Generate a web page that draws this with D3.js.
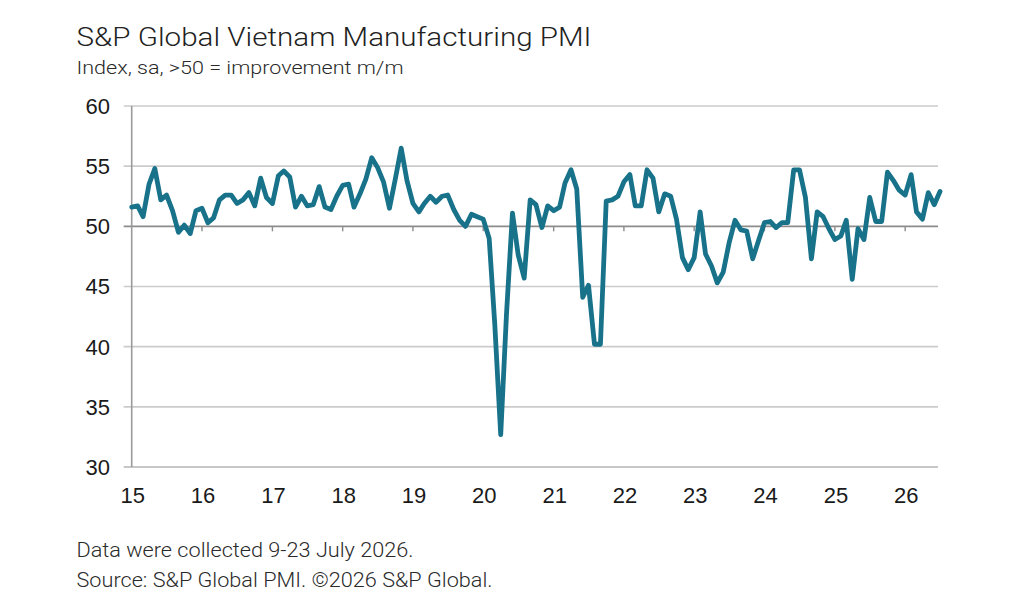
<!DOCTYPE html>
<html>
<head>
<meta charset="utf-8">
<script src="https://cdn.jsdelivr.net/npm/d3@7"></script>
<style>
  html, body { margin: 0; padding: 0; background: #fff; }
  svg { display: block; }
</style>
</head>
<body>
<svg id="chart" width="1024" height="614"></svg>
<script>
// ---- Data ----
const startMonth = "2015-01";   // first observation
const pmiValues = [
  // 2015
  51.6, 51.7, 50.8, 53.5, 54.8, 52.2, 52.6, 51.3, 49.5, 50.1, 49.4, 51.3,
  // 2016
  51.5, 50.3, 50.7, 52.2, 52.6, 52.6, 51.9, 52.2, 52.8, 51.7, 54.0, 52.4,
  // 2017
  51.9, 54.2, 54.6, 54.1, 51.6, 52.5, 51.7, 51.8, 53.3, 51.6, 51.4, 52.5,
  // 2018
  53.4, 53.5, 51.6, 52.7, 53.9, 55.7, 54.9, 53.7, 51.5, 53.9, 56.5, 53.8,
  // 2019
  51.9, 51.2, 51.9, 52.5, 52.0, 52.5, 52.6, 51.4, 50.5, 50.0, 51.0, 50.8,
  // 2020
  50.6, 49.0, 41.9, 32.7, 42.7, 51.1, 47.6, 45.7, 52.2, 51.8, 49.9, 51.7,
  // 2021
  51.3, 51.6, 53.6, 54.7, 53.1, 44.1, 45.1, 40.2, 40.2, 52.1, 52.2, 52.5,
  // 2022
  53.7, 54.3, 51.7, 51.7, 54.7, 54.0, 51.2, 52.7, 52.5, 50.6, 47.4, 46.4,
  // 2023
  47.4, 51.2, 47.7, 46.7, 45.3, 46.2, 48.6, 50.5, 49.7, 49.6, 47.3, 48.8,
  // 2024
  50.3, 50.4, 49.9, 50.3, 50.3, 54.7, 54.7, 52.4, 47.3, 51.2, 50.8, 49.8,
  // 2025
  48.9, 49.2, 50.5, 45.6, 49.8, 48.9, 52.4, 50.4, 50.4, 54.5, 53.8, 53.0,
  // 2026
  52.6, 54.3, 51.2, 50.6, 52.8, 51.8, 52.9
];
const yTicks = [30, 35, 40, 45, 50, 55, 60];
const xTickYears = [2015, 2016, 2017, 2018, 2019, 2020, 2021, 2022, 2023, 2024, 2025, 2026];
const titleText = "S&P Global Vietnam Manufacturing PMI";
const subtitleText = "Index, sa, >50 = improvement m/m";
const footerLines = ["Data were collected 9-23 July 2026.", "Source: S&P Global PMI. ©2026 S&P Global."];

(function () {
// ---- Build ----
const parseMonth = d3.timeParse("%Y-%m");
const t0 = parseMonth(startMonth);
const data = pmiValues.map((v, i) => ({ date: d3.timeMonth.offset(t0, i), value: v }));

const svg = d3.select("#chart");
const pLeft = 131.7, pRight = 940, pTop = 106, pBottom = 467;

const x = d3.scaleTime()
  .domain([data[0].date, data[data.length - 1].date])
  .range([pLeft, pRight]);
const y = d3.scaleLinear().domain([30, 60]).range([pBottom, pTop]);

const gridRight = 938;

// gridlines
svg.append("g").selectAll("line")
  .data(yTicks.filter(d => d !== 50))
  .join("line")
  .attr("x1", pLeft - 8).attr("x2", gridRight)
  .attr("y1", d => y(d)).attr("y2", d => y(d))
  .attr("stroke", d => d === 30 ? "#b4b4b4" : "#cbcbcb")
  .attr("stroke-width", 1.6);

// 50 line (darker)
svg.append("line")
  .attr("x1", pLeft - 8).attr("x2", gridRight)
  .attr("y1", y(50)).attr("y2", y(50))
  .attr("stroke", "#8c8c8c").attr("stroke-width", 1.6);

// year ticks on the 50 line
svg.append("g").selectAll("line")
  .data(xTickYears.slice(1))
  .join("line")
  .attr("x1", d => x(new Date(d, 0, 1))).attr("x2", d => x(new Date(d, 0, 1)))
  .attr("y1", y(50)).attr("y2", y(50) + 5)
  .attr("stroke", "#8c8c8c").attr("stroke-width", 1.4);

// y axis line
svg.append("line")
  .attr("x1", pLeft).attr("x2", pLeft)
  .attr("y1", pTop).attr("y2", pBottom)
  .attr("stroke", "#9a9a9a").attr("stroke-width", 1.6);

// y tick labels
svg.append("g").selectAll("text")
  .data(yTicks)
  .join("text")
  .attr("x", 110).attr("y", d => y(d))
  .attr("dy", "0.36em")
  .attr("text-anchor", "end")
  .attr("font-family", "'Liberation Sans', Arial, sans-serif")
  .attr("font-size", 22)
  .attr("fill", "#1a1a1a")
  .text(d => d);

// x tick labels
svg.append("g").selectAll("text")
  .data(xTickYears)
  .join("text")
  .attr("x", d => x(new Date(d, 0, 1)) + 1)
  .attr("y", 503)
  .attr("text-anchor", "middle")
  .attr("font-family", "'Liberation Sans', Arial, sans-serif")
  .attr("font-size", 22)
  .attr("fill", "#1a1a1a")
  .text(d => String(d).slice(2));

// line
const line = d3.line().x(d => x(d.date)).y(d => y(d.value));
svg.append("path")
  .datum(data)
  .attr("d", line)
  .attr("fill", "none")
  .attr("stroke", "#17728a")
  .attr("stroke-width", 4.8)
  .attr("stroke-linejoin", "round")
  .attr("stroke-linecap", "round");

// titles
svg.append("text")
  .attr("x", 76.5).attr("y", 46)
  .attr("font-family", "Roboto, 'Open Sans', sans-serif")
  .attr("font-weight", 300)
  .attr("font-size", 26)
  .attr("fill", "#222")
  .attr("textLength", 515).attr("lengthAdjust", "spacingAndGlyphs")
  .text(titleText);

svg.append("text")
  .attr("x", 76.5).attr("y", 73.5)
  .attr("font-family", "Roboto, 'Open Sans', sans-serif")
  .attr("font-weight", 300)
  .attr("font-size", 18.5)
  .attr("fill", "#2a2a2a")
  .attr("textLength", 327).attr("lengthAdjust", "spacingAndGlyphs")
  .text(subtitleText);

// footer
const footerWidths = [337, 416];
svg.append("g").selectAll("text")
  .data(footerLines)
  .join("text")
  .attr("x", 76.5)
  .attr("y", (d, i) => 557 + i * 30)
  .attr("font-family", "Roboto, 'Open Sans', sans-serif")
  .attr("font-weight", 300)
  .attr("font-size", 20)
  .attr("fill", "#2a2a2a")
  .attr("textLength", (d, i) => footerWidths[i])
  .attr("lengthAdjust", "spacingAndGlyphs")
  .text(d => d);
})();
</script>
</body>
</html>
